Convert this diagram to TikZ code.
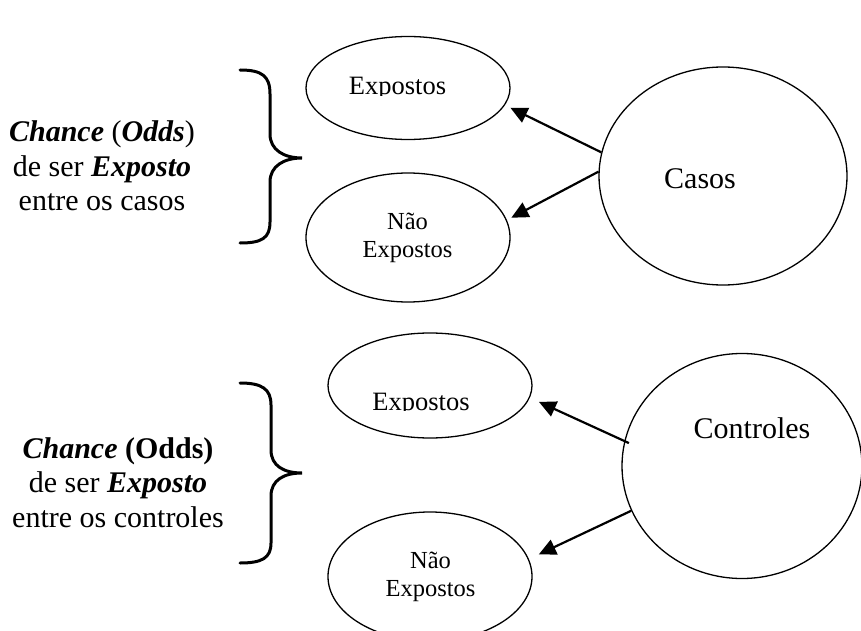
\documentclass[tikz,border=0pt]{standalone}
\usepackage{fontspec}
\setmainfont{Liberation Serif}
\usetikzlibrary{shapes.geometric,arrows.meta}
\begin{document}
\begin{tikzpicture}[x=1bp,y=-1bp,
  oval/.style={ellipse, draw, line width=1.3bp, inner sep=0pt},
  arr/.style={line width=2.2bp, -{Triangle[length=17bp,width=16bp]}},
  bracepath/.style={line width=3bp, line cap=round},
  txt/.style={inner sep=0pt, anchor=base},
  bigfont/.style={font=\fontsize{30bp}{34.5bp}\selectfont},
  midfont/.style={font=\fontsize{26.5bp}{30bp}\selectfont},
  smallfont/.style={font=\fontsize{24.5bp}{28bp}\selectfont}]
\useasboundingbox (0,0) rectangle (861,631);
\clip (0,0) rectangle (861,631);

% ovals
\node[oval, minimum width=204bp, minimum height=103bp] (expA) at (408,88) {};
\node[oval, minimum width=204bp, minimum height=129bp] (naoA) at (408,237.5) {};
\node[oval, minimum width=204bp, minimum height=105bp] (expB) at (430,385.5) {};
\node[oval, minimum width=204bp, minimum height=129bp] (naoB) at (430,576.5) {};
\node[oval, minimum width=248bp, minimum height=218bp] (casos) at (723,176) {};
\node[oval, minimum width=240bp, minimum height=225bp] (controles) at (742,466) {};

% texts inside the ovals
\begin{scope}
  \clip (306,40) rectangle (510,95.5);
  \node[txt, midfont] (expAtxt) at (397.5,95) {Expostos};
\end{scope}
\begin{scope}
  \clip (328,340) rectangle (532,410.7);
  \node[txt, midfont] (expBtxt) at (421,410.5) {Expostos};
\end{scope}
\node[txt, smallfont] (naoAtxt) at (407.5,230) {\begin{tabular}[t]{@{}c@{}}Não\\Expostos\end{tabular}};
\node[txt, smallfont] (naoBtxt) at (430.5,568) {\begin{tabular}[t]{@{}c@{}}Não\\Expostos\end{tabular}};
\node[txt, bigfont] (casostxt) at (700,189) {Casos};
\node[txt, bigfont] (controlestxt) at (752,438) {Controles};

% side labels
\node[txt, bigfont] (lblA) at (102,142) {\begin{tabular}[t]{@{}c@{}}
  \textbf{\textit{Chance}} (\textbf{\textit{Odds}})\\
  de ser \textbf{\textit{Exposto}}\\
  entre os casos\end{tabular}};
\node[txt, bigfont] (lblB) at (118,458) {\begin{tabular}[t]{@{}c@{}}
  \textbf{\textit{Chance}} \textbf{(Odds)}\\
  de ser \textbf{\textit{Exposto}}\\
  entre os controles\end{tabular}};

% braces
\draw[bracepath] (240,70) .. controls (262,70) and (270,76) .. (270,94)
  -- (270,134) .. controls (270,150) and (284,158) .. (302,158)
  .. controls (284,158) and (270,166) .. (270,182)
  -- (270,222) .. controls (270,238) and (262,243) .. (240,243);
\draw[bracepath] (240,383) .. controls (262,383) and (271,389) .. (271,405)
  -- (271,450) .. controls (271,466) and (284,473) .. (302,473)
  .. controls (284,473) and (271,480) .. (271,496)
  -- (271,543) .. controls (271,558) and (262,563) .. (240,563);

% connectors
\draw[arr, shorten >=6bp] (casos.169) -- (expA.-10);
\draw[arr, shorten >=5bp] (casos.178.6) -- (naoA.10.8);
\draw[arr, shorten <=-5bp, shorten >=10bp] (controles.168.9) -- (expB.-7);
\draw[arr, shorten >=11bp] (controles.202) -- (naoB.10);
\end{tikzpicture}
\end{document}
